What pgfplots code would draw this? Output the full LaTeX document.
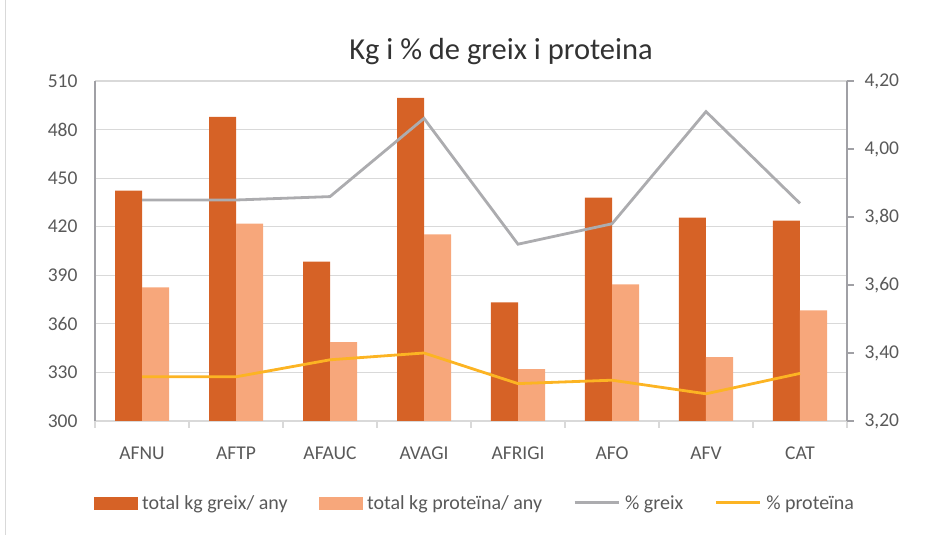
\documentclass[border=0pt]{standalone}
\usepackage{fontspec}
\setmainfont{Carlito}
\usepackage{pgfplots}
\pgfplotsset{compat=1.18}
\definecolor{cdark}{RGB}{214,98,38}
\definecolor{clight}{RGB}{247,167,123}
\definecolor{cgray}{RGB}{172,172,175}
\definecolor{cyel}{RGB}{252,180,35}
\definecolor{cgrid}{RGB}{217,217,217}
\definecolor{caxis}{RGB}{160,160,165}
\definecolor{ctext}{RGB}{89,89,89}
\definecolor{ctitle}{RGB}{50,50,50}
\pgfplotsset{/pgf/number format/assume math mode=true}
\begin{document}
\begin{tikzpicture}[x=1pt,y=1pt]
\useasboundingbox (0,0) rectangle (929,535);
\draw[cgrid, line width=1.2pt] (5.5,0) -- (5.5,535);
\node[anchor=base, text=ctitle, font=\fontsize{30.5}{34}\selectfont] at (501,475.7) {Kg i \% de greix i proteina};
\begin{axis}[
  at={(95pt,114pt)}, anchor=south west, scale only axis,
  width=752pt, height=340pt,
  xmin=-0.5, xmax=7.5, ymin=300, ymax=510,
  ytick={300,330,360,390,420,450,480,510},
  axis y line*=left, axis x line*=bottom,
  y axis line style={caxis, line width=1.5pt},
  x axis line style={cgrid, line width=1.2pt},
  ymajorgrids, grid style={cgrid, line width=1.2pt},
  ybar=0pt, bar width=27pt,
  xtick={0,1,2,3,4,5,6,7},
  xticklabels={AFNU,AFTP,AFAUC,AVAGI,AFRIGI,AFO,AFV,CAT},
  major tick length=0pt,
  extra x ticks={-0.5,0.5,1.5,2.5,3.5,4.5,5.5,6.5,7.5},
  extra x tick labels={},
  extra x tick style={tick align=outside, major tick length=7pt, tick style={cgrid, line width=1.2pt}, grid=none},
  yticklabel style={font=\fontsize{19.5}{22}\selectfont, text=ctext, xshift=-14pt},
  xticklabel style={font=\fontsize{19.5}{22}\selectfont, text=ctext, yshift=-22pt},
  /pgf/number format/.cd, fixed, precision=0, 1000 sep={},
]
\addplot[fill=cdark, draw=none] coordinates {(0,442.3) (1,487.8) (2,398.5) (3,499.5) (4,373.3) (5,438.0) (6,425.6) (7,423.8)};
\addplot[fill=clight, draw=none] coordinates {(0,382.5) (1,421.9) (2,348.7) (3,415.2) (4,332.0) (5,384.4) (6,339.4) (7,368.4)};
\end{axis}
\begin{axis}[
  at={(95pt,114pt)}, anchor=south west, scale only axis,
  width=752pt, height=340pt,
  xmin=-0.5, xmax=7.5, ymin=3.2, ymax=4.2,
  ytick={3.2,3.4,3.6,3.8,4.0,4.2},
  axis y line*=right, axis x line=none,
  y axis line style={caxis, line width=1.5pt},
  ytick style={caxis, line width=1.2pt},
  tick align=outside, major tick length=7pt,
  yticklabel style={font=\fontsize{19.5}{22}\selectfont, text=ctext, xshift=7pt,
    /pgf/number format/.cd, fixed, fixed zerofill, precision=2, use comma},
  legend columns=4,
  legend style={draw=none, fill=none, at={(-0.006,-0.241)}, anchor=west,
    font=\fontsize{20}{23}\selectfont, text=ctext,
    /tikz/every even column/.append style={column sep=29pt},
    /tikz/every odd column/.append style={column sep=3pt}},
  legend cell align=left,
]
\addlegendimage{legend image code/.code={\fill[cdark] (0pt,-6pt) rectangle (43pt,6pt);}}
\addlegendentry{total kg greix/ any}
\addlegendimage{legend image code/.code={\fill[clight] (0pt,-6pt) rectangle (43pt,6pt);}}
\addlegendentry{total kg proteïna/ any}
\addplot[cgray, line width=2.8pt, mark=none, legend image code/.code={\draw[cgray, line width=3pt] (0pt,0pt) -- (44pt,0pt);}] coordinates {(0,3.85) (1,3.85) (2,3.86) (3,4.09) (4,3.72) (5,3.78) (6,4.11) (7,3.84)};
\addlegendentry{\% greix}
\addplot[cyel, line width=2.8pt, mark=none, legend image code/.code={\draw[cyel, line width=3pt] (0pt,0pt) -- (44pt,0pt);}] coordinates {(0,3.33) (1,3.33) (2,3.38) (3,3.40) (4,3.31) (5,3.32) (6,3.28) (7,3.34)};
\addlegendentry{\% proteïna}
\end{axis}
\end{tikzpicture}
\end{document}
